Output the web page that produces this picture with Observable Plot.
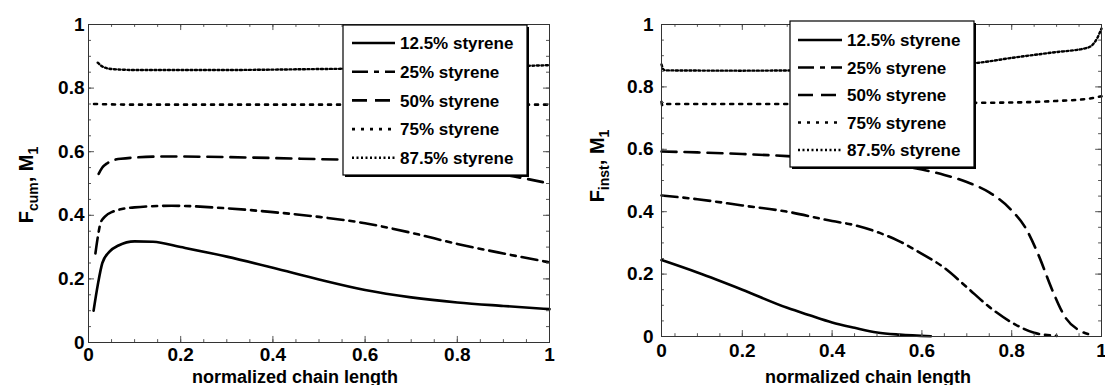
<!DOCTYPE html>
<html><head><meta charset="utf-8">
<script src="https://cdn.jsdelivr.net/npm/d3@7"></script>
<script src="https://cdn.jsdelivr.net/npm/@observablehq/plot@0.6"></script>
<style>
body{margin:0;background:#fff;}
#wrap{display:flex;width:1105px;height:385px;overflow:visible;}
#wrap svg{overflow:visible;}
</style></head><body><div id="wrap"></div>
<script>
const seriesNames = ["12.5% styrene","25% styrene","50% styrene","75% styrene","87.5% styrene"];
const dashes = [null,"16,6,5,6","15,8","3,6","2,2.5"];
const widths = [2.6,2.6,2.6,2.6,2.4];
const xLabel = "normalized chain length";

// Left panel: F_cum
const cum125X = [0.011,0.02,0.03,0.045,0.065,0.1,0.14,0.2,0.3,0.4,0.5,0.6,0.7,0.8,0.9,1.0];
const cum125Y = [0.10,0.18,0.25,0.285,0.305,0.318,0.317,0.30,0.27,0.235,0.198,0.165,0.142,0.126,0.115,0.105];
const cum25X = [0.015,0.02,0.026,0.035,0.05,0.1,0.18,0.3,0.4,0.5,0.6,0.7,0.8,0.9,1.0];
const cum25Y = [0.28,0.33,0.375,0.395,0.41,0.425,0.43,0.422,0.41,0.395,0.375,0.345,0.31,0.28,0.252];
const cum50X = [0.022,0.03,0.04,0.07,0.17,0.3,0.46,0.6,0.7,0.8,0.9,1.0];
const cum50Y = [0.53,0.55,0.563,0.578,0.585,0.583,0.578,0.572,0.562,0.548,0.528,0.50];
const cum75X = [0.012,0.1,0.3,0.5,0.7,0.9,1.0];
const cum75Y = [0.75,0.748,0.748,0.748,0.748,0.748,0.748];
const cum875X = [0.02,0.03,0.05,0.1,0.3,0.5,0.7,0.9,1.0];
const cum875Y = [0.88,0.868,0.86,0.857,0.857,0.86,0.863,0.868,0.872];

// Right panel: F_inst
const inst125X = [0.02,0.1,0.2,0.3,0.35,0.4,0.45,0.5,0.55,0.62];
const inst125Y = [0.245,0.205,0.15,0.092,0.068,0.045,0.028,0.013,0.006,0.001];
const inst25X = [0.02,0.1,0.2,0.3,0.4,0.45,0.5,0.55,0.6,0.65,0.7,0.75,0.8,0.85,0.9];
const inst25Y = [0.452,0.44,0.42,0.4,0.37,0.357,0.335,0.305,0.265,0.22,0.158,0.095,0.045,0.012,0.002];
const inst50X = [0.02,0.1,0.2,0.3,0.4,0.5,0.6,0.65,0.7,0.75,0.8,0.83,0.86,0.89,0.92,0.95,0.97];
const inst50Y = [0.593,0.59,0.585,0.578,0.568,0.555,0.535,0.518,0.495,0.462,0.404,0.35,0.26,0.15,0.06,0.02,0.008];
const inst75X = [0.02,0.022,0.03,0.3,0.6,0.8,0.9,0.97,1.0];
const inst75Y = [0.752,0.74,0.745,0.745,0.748,0.75,0.755,0.762,0.77];
const inst875X = [0.02,0.025,0.03,0.2,0.4,0.6,0.73,0.8,0.89,0.97,0.99,1.0];
const inst875Y = [0.872,0.855,0.853,0.852,0.855,0.865,0.878,0.893,0.91,0.926,0.955,0.987];

const majorTicks = [0,0.2,0.4,0.6,0.8,1];
const minorTicks = d3.range(1,20).map(i => i*0.05);

const font = "'Liberation Sans', Arial, sans-serif";

function toRows(xs, ys){ return xs.map((x,i)=>({x, y: ys[i]})); }

function tickMarks(xMin){
  const mx = majorTicks.filter(t=>t>=xMin), nx = minorTicks.filter(t=>t>=xMin);
  const c = {stroke:"#555", strokeWidth:1};
  return [
    Plot.ruleX(mx, {x:d=>d, y1:0, y2:0.019, ...c}),
    Plot.ruleX(mx, {x:d=>d, y1:1, y2:0.981, ...c}),
    Plot.ruleX(nx, {x:d=>d, y1:0, y2:0.009, ...c}),
    Plot.ruleX(nx, {x:d=>d, y1:1, y2:0.991, ...c}),
    Plot.ruleY(majorTicks, {y:d=>d, x1:xMin, x2:xMin+0.013, ...c}),
    Plot.ruleY(majorTicks, {y:d=>d, x1:1, x2:0.987, ...c}),
    Plot.ruleY(minorTicks, {y:d=>d, x1:xMin, x2:xMin+0.0065, ...c}),
    Plot.ruleY(minorTicks, {y:d=>d, x1:1, x2:0.9935, ...c})
  ];
}

function seriesMarks(list){
  return list.map((s,i)=>Plot.line(toRows(s[0], s[1]), {x:"x", y:"y", stroke:"#000", strokeWidth:widths[i], strokeDasharray:dashes[i] || undefined, curve:"monotone-x"}));
}

function addLegend(svg, o){
  const g = d3.select(svg).append("g");
  g.append("rect").attr("x",o.x+2).attr("y",o.y+2).attr("width",o.w).attr("height",o.h).attr("fill","#000");
  g.append("rect").attr("x",o.x).attr("y",o.y).attr("width",o.w).attr("height",o.h).attr("fill","#fff").attr("stroke","#000").attr("stroke-width",1.2);
  seriesNames.forEach((n,i)=>{
    const yy = o.row0 + i*o.step;
    const ln = g.append("line").attr("x1",o.s1).attr("x2",o.s2).attr("y1",yy).attr("y2",yy)
      .attr("stroke","#000").attr("stroke-width",widths[i]);
    if (dashes[i]) ln.attr("stroke-dasharray",dashes[i]);
    g.append("text").attr("x",o.tx).attr("y",yy).attr("dy","0.36em").attr("text-anchor","start")
      .attr("font-family",font).attr("font-weight","bold").attr("font-size",17).text(n);
  });
}

function addYLabel(svg, x, y, sub){
  const t = d3.select(svg).append("text").attr("transform",`translate(${x},${y}) rotate(-90)`)
    .attr("text-anchor","middle").attr("font-family",font).attr("font-weight","bold").attr("font-size",20);
  t.append("tspan").text("F");
  t.append("tspan").attr("font-size",14).attr("dy",5).text(sub);
  t.append("tspan").attr("dy",-5).text(", M");
  t.append("tspan").attr("font-size",14).attr("dy",5).text("1");
}

function addXLabel(svg, x, y){
  d3.select(svg).append("text").attr("x",x).attr("y",y).attr("text-anchor","middle")
    .attr("font-family",font).attr("font-weight","bold").attr("font-size",18).text(xLabel);
}

const baseStyle = {fontFamily:font, fontSize:"19px", fontWeight:"bold", color:"#000", background:"#fff", overflow:"visible"};

const left = Plot.plot({
  width:560, height:385, marginLeft:88, marginRight:11, marginTop:24, marginBottom:43,
  style: baseStyle,
  x:{domain:[0,1], ticks:majorTicks, tickSize:0, tickPadding:5, tickFormat:d=>String(d), label:null},
  y:{domain:[0,1], ticks:majorTicks, tickSize:0, tickPadding:4, tickFormat:d=>String(d), label:null},
  marks:[
    ...seriesMarks([[cum125X,cum125Y],[cum25X,cum25Y],[cum50X,cum50Y],[cum75X,cum75Y],[cum875X,cum875Y]]),
    ...tickMarks(0),
    Plot.frame({stroke:"#333", strokeWidth:1})
  ]
});

const right = Plot.plot({
  width:545, height:385, marginLeft:101, marginRight:4, marginTop:24, marginBottom:49,
  style: baseStyle,
  x:{domain:[0.02,1], ticks:[0.02,0.2,0.4,0.6,0.8,1], tickSize:0, tickPadding:7, tickFormat:d=> d===0.02 ? "0" : String(d), label:null},
  y:{domain:[0,1], ticks:majorTicks, tickSize:0, tickPadding:8, tickFormat:d=>String(d), label:null},
  marks:[
    ...seriesMarks([[inst125X,inst125Y],[inst25X,inst25Y],[inst50X,inst50Y],[inst75X,inst75Y],[inst875X,inst875Y]]),
    ...tickMarks(0.02),
    Plot.frame({stroke:"#333", strokeWidth:1})
  ]
});

document.getElementById("wrap").append(left, right);
addLegend(left, {x:343, y:25, w:184, h:150, row0:43, step:28.7, s1:352, s2:395, tx:400});
addLegend(right, {x:230, y:21, w:184, h:146, row0:40, step:27.5, s1:238, s2:282, tx:287});
addYLabel(left, 33, 185, "cum");
addYLabel(right, 44, 166, "inst");
addXLabel(left, 295, 383);
addXLabel(right, 308, 383);
</script></body></html>
